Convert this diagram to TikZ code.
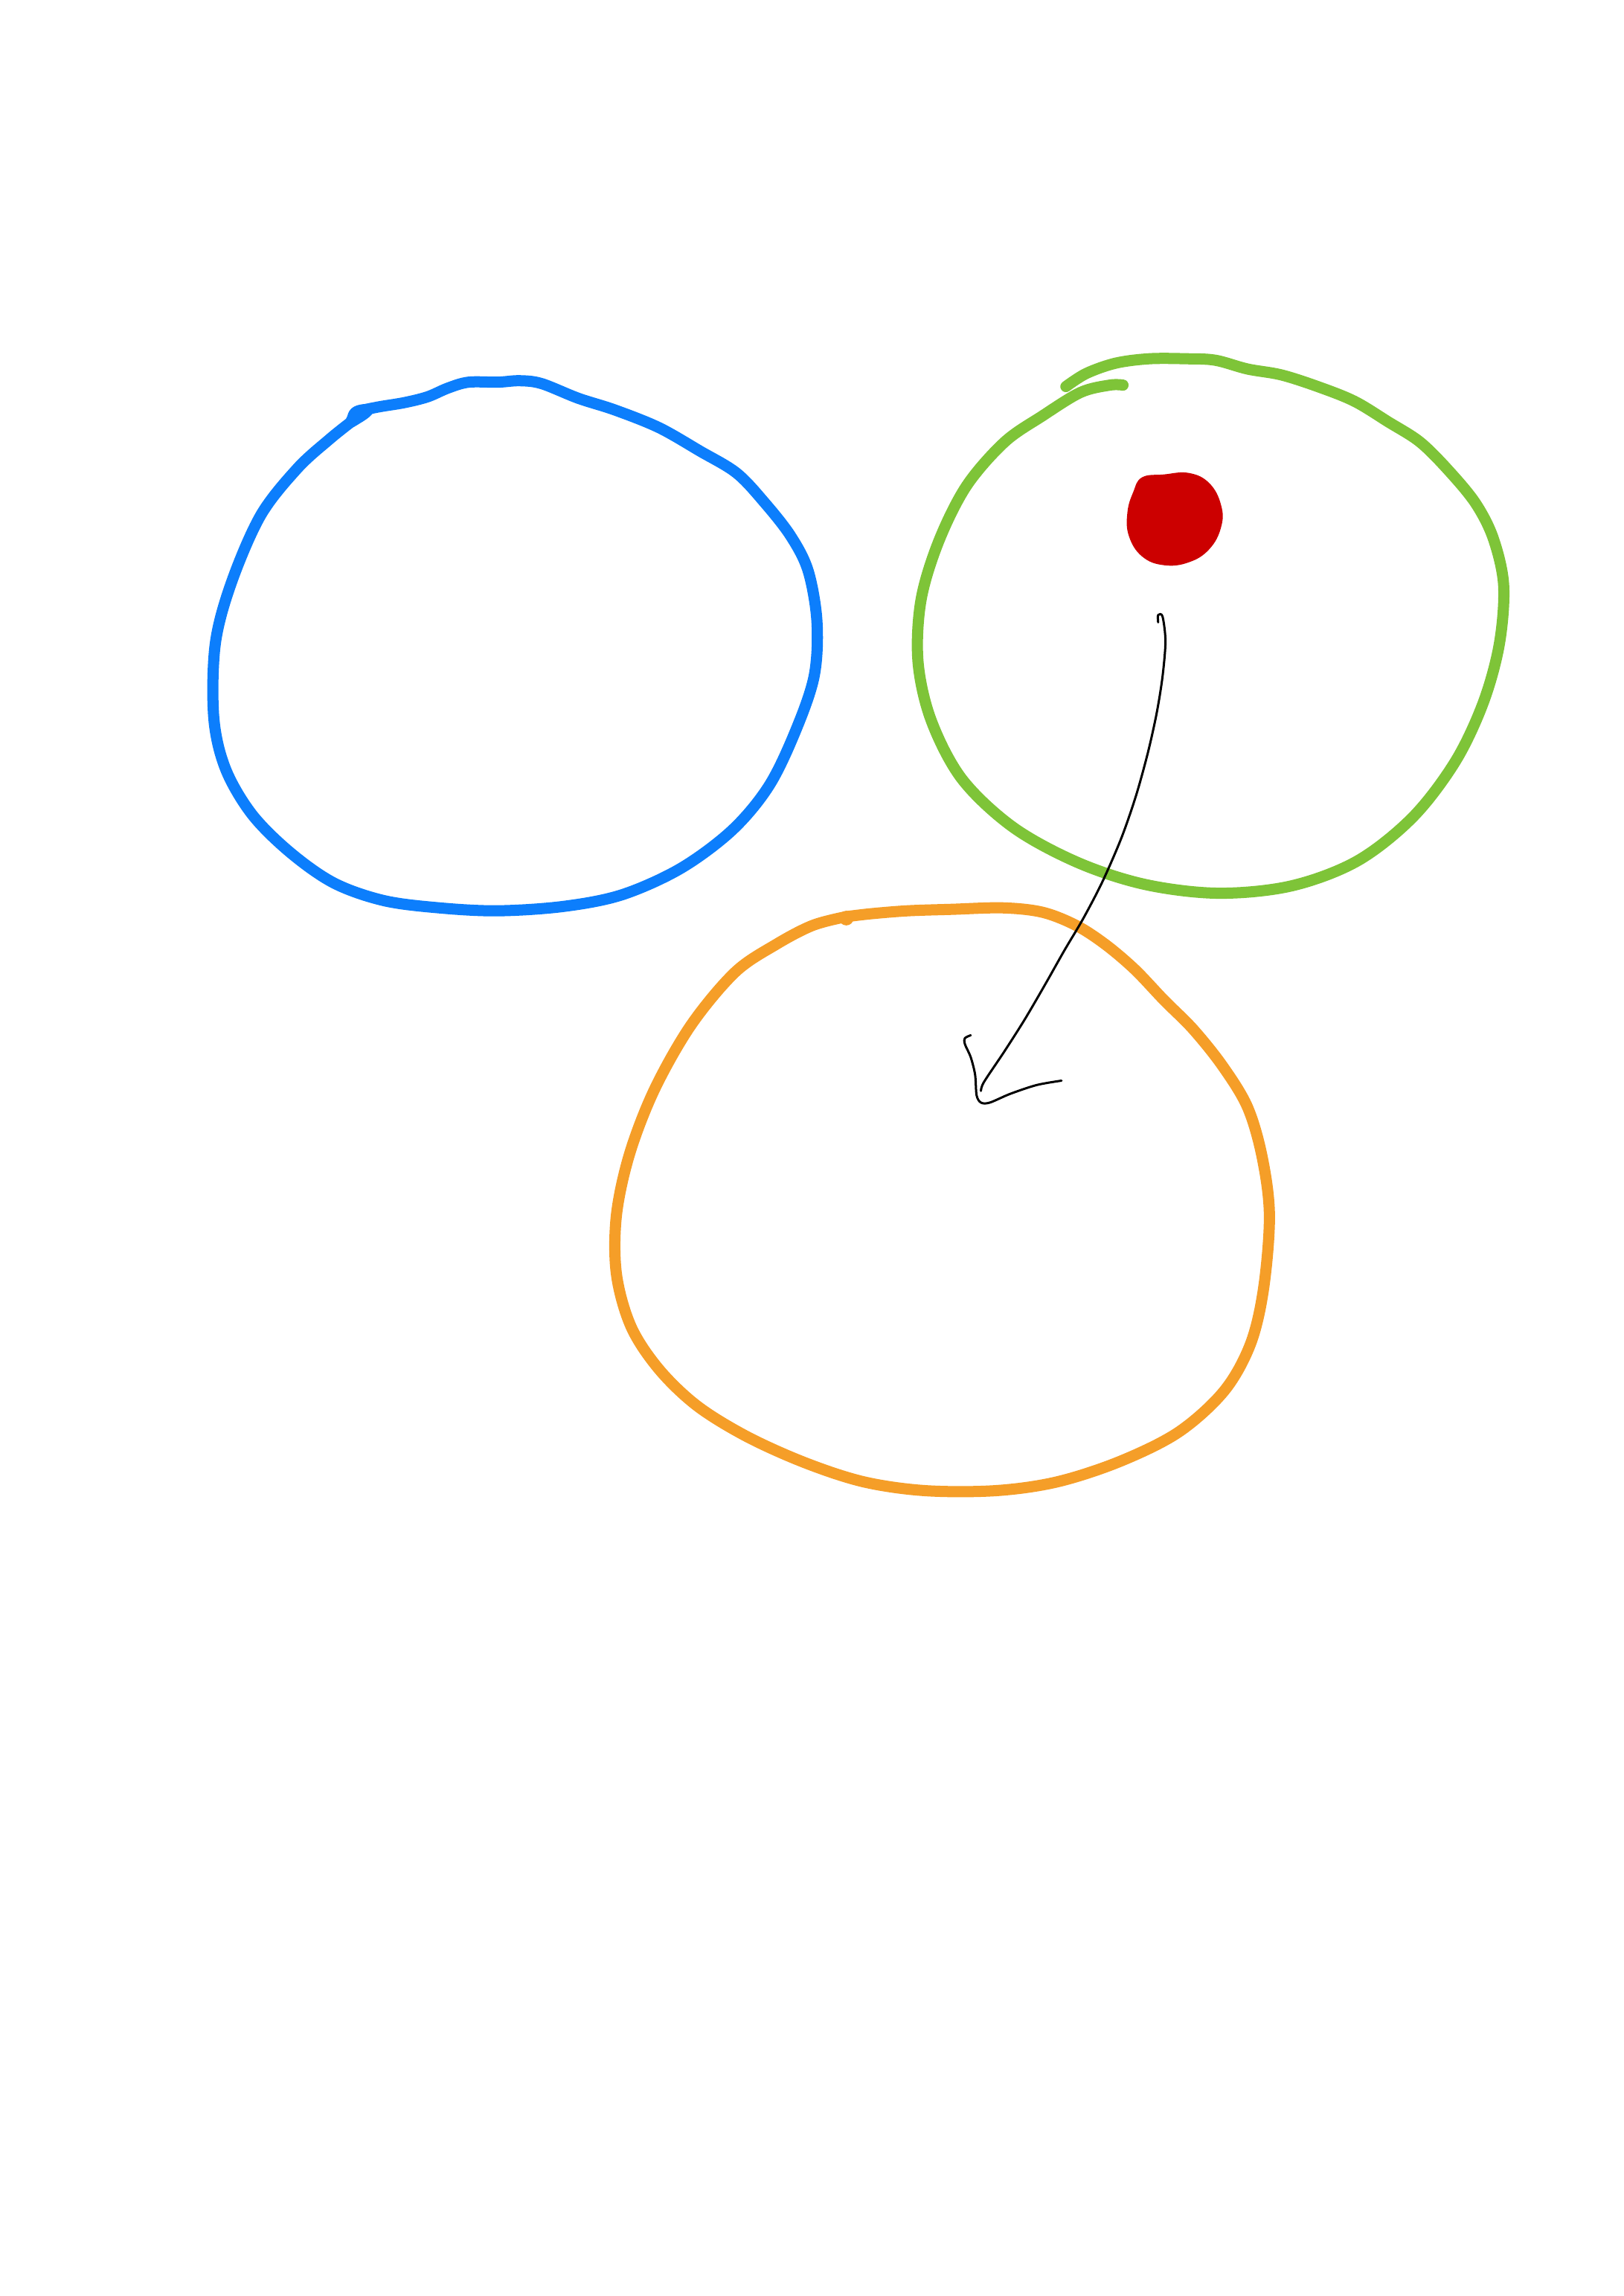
\documentclass[tikz,border=0pt]{standalone}
\definecolor{penblue}{RGB}{12,126,252}
\definecolor{pengreen}{RGB}{126,196,56}
\definecolor{penorange}{RGB}{245,158,40}
\definecolor{penred}{RGB}{204,0,0}
\tikzset{
  pen/.style={line width=15pt, line cap=round, line join=round},
  ink/.style={line width=3pt, line cap=round, line join=round, black},
}
\begin{document}
\begin{tikzpicture}[x=1.9675pt,y=-1.9675pt]
\useasboundingbox[fill=white] (0,0) rectangle (1109,1568);
% blue loop
\draw[pen,penblue] plot[smooth,tension=0.55] coordinates {
 (240,287) (246,281) (258,278) (276,275) (292,271) (306,265) (320,261) (340,261) (355,260) (370,262)
 (395,272) (420,280) (450,292) (478,308) (503,323) (522,343) (540,366) (552,390) (558,425)
 (556,462) (543,500) (525,537) (500,567) (465,593) (425,611) (385,619) (340,622) (300,620)
 (262,615) (228,603) (198,582) (172,556) (154,525) (146,490) (147,440) (158,398) (178,352)
 (203,320) (225,300) (240,288)};
\fill[penblue] plot[smooth cycle,tension=0.7] coordinates {
 (237,286) (240,279) (248,276) (256,277) (254,283) (246,289) (239,292)};
% green loop
\draw[pen,pengreen] plot[smooth,tension=0.55] coordinates {
 (728,264) (742,255) (762,248) (785,245) (810,245) (830,246) (852,252) (875,256) (900,264)
 (925,274) (948,288) (970,302) (990,322) (1008,344) (1020,368) (1027,400) (1024,440)
 (1013,480) (994,520) (965,558) (927,588) (882,605) (832,610) (782,604) (736,589) (692,565)
 (657,532) (636,492) (627,452) (629,410) (641,370) (660,332) (686,302) (712,284) (738,268)
 (758,263) (767,263)};
% red blob
\fill[penred] plot[smooth cycle,tension=0.7] coordinates {
 (774,336) (780,326) (795,324) (812,323) (826,330) (834,345) (834,360) (826,375)
 (812,384) (795,386) (780,380) (771,366) (770,350)};
% orange loop
\draw[pen,penorange] plot[smooth,tension=0.55] coordinates {
 (578,626) (595,624) (620,622) (650,621) (685,620) (712,623) (735,632) (755,645) (775,662)
 (795,683) (815,703) (835,728) (852,756) (862,790) (867,830) (863,880) (854,918) (836,950)
 (805,978) (765,998) (722,1012) (680,1018) (632,1018) (590,1012) (550,999) (510,981)
 (476,960) (450,935) (431,906) (421,870) (421,830) (430,788) (447,744) (472,700)
 (502,664) (530,645) (555,632) (578,626)};
\fill[penorange] (578,627) circle[radius=5];
% black arrow
\draw[ink] plot[smooth,tension=0.5] coordinates {
 (791,425) (791,420) (794,421) (796,438) (794,462) (790,487) (784,514) (776,543) (766,572)
 (753,602) (740,627) (727,649) (714,672) (700,696) (686,718) (672,739) (670,745)};
\draw[ink] plot[smooth,tension=0.5] coordinates {
 (663,707) (659,709) (659,713) (663,722) (666,734) (667,748) (670,753) (676,753) (690,747)
 (708,741) (725,738)};
\end{tikzpicture}
\end{document}
